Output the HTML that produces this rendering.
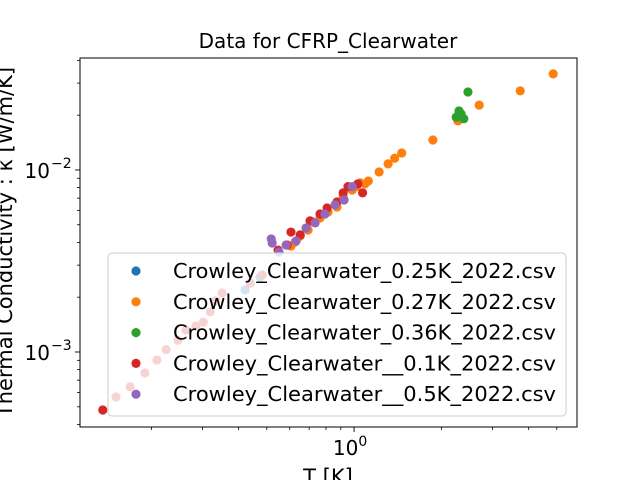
<!DOCTYPE html>
<html><head><meta charset="utf-8"><style>
body{margin:0;background:#fff;}
svg{display:block;font-family:"DejaVu Sans","Liberation Sans",sans-serif;}
</style></head><body>
<svg id="chart" width="640" height="480">
<rect width="640" height="480" fill="#fff"/>
<g id="marks"></g>
<g id="axes"></g>
<g id="legend"></g>
<text x="328" y="48" text-anchor="middle" font-size="20">Data for CFRP_Clearwater</text>
<text x="328" y="484" text-anchor="middle" font-size="21">T [K]</text>
<text transform="translate(12,242) rotate(-90)" text-anchor="middle" font-size="21">Thermal Conductivity : κ [W/m/K]</text>
</svg>
<script>
const seriesNames=["Crowley_Clearwater_0.25K_2022.csv","Crowley_Clearwater_0.27K_2022.csv","Crowley_Clearwater_0.36K_2022.csv","Crowley_Clearwater__0.1K_2022.csv","Crowley_Clearwater__0.5K_2022.csv"];
const seriesColors=["#1f77b4","#ff7f0e","#2ca02c","#d62728","#9467bd"];
const blueT=[0.474,0.421];
const blueK=[0.00258,0.00219];
const orangeT=[4.86,3.74,2.70,2.28,1.87,1.46,1.38,1.31,1.22,1.12,1.09,1.05,1.02,0.985,0.917,0.873,0.813,0.763,0.722,0.694,0.652,0.626,0.606];
const orangeK=[0.0337,0.0272,0.0227,0.0186,0.0146,0.0124,0.0116,0.0108,0.00975,0.0087,0.00838,0.0085,0.0081,0.00776,0.00711,0.00626,0.00588,0.00545,0.00518,0.00468,0.00434,0.00402,0.00382];
const greenT=[2.47,2.30,2.25,2.39,2.34];
const greenK=[0.0268,0.0211,0.0195,0.0191,0.0203];
const redT=[1.03,1.07,0.953,0.917,0.873,0.807,0.763,0.705,0.652,0.606,0.588,0.547,0.482,0.438,0.351,0.334,0.319,0.302,0.285,0.263,0.247,0.225,0.209,0.190,0.169,0.151,0.136];
const redK=[0.00838,0.00748,0.0081,0.00748,0.00667,0.00618,0.00573,0.00525,0.0044,0.00456,0.00387,0.00363,0.00265,0.00239,0.00211,0.00191,0.00166,0.00146,0.00139,0.00132,0.00116,0.00103,0.000904,0.000767,0.000643,0.000566,0.00048];
const purpleT=[0.985,0.924,0.860,0.794,0.734,0.683,0.631,0.583,0.551,0.518,0.522];
const purpleK=[0.0081,0.00684,0.00643,0.00573,0.00512,0.0048,0.00407,0.00387,0.00354,0.00418,0.00397];
const xTickVals=[1];
const xTickLabels=["0"];
const yTickVals=[0.001,0.01];
const yTickLabels=["−3","−2"];

const L=80,R=577,T=58,B=427;
const xMin=Math.log10(0.1135),xMax=Math.log10(5.87);
const yMin=-3.412,yMax=-1.385;
function xs(v){return L+(Math.log10(v)-xMin)/(xMax-xMin)*(R-L);}
function ys(v){return B-(Math.log10(v)-yMin)/(yMax-yMin)*(B-T);}
const NS="http://www.w3.org/2000/svg";
function mk(tag,attrs,parent){const e=document.createElementNS(NS,tag);for(const k in attrs)e.setAttribute(k,attrs[k]);parent.appendChild(e);return e;}
const marks=document.getElementById('marks');
const all=[[blueT,blueK],[orangeT,orangeK],[greenT,greenK],[redT,redK],[purpleT,purpleK]];
all.forEach((s,si)=>{
  const g=mk('g',{},marks);
  
  
  s[0].forEach((t,i)=>{
    const c=mk('circle',{cx:xs(t),cy:ys(s[1][i]),r:4.6,fill:seriesColors[si]},g);
    
    
  });
});
const ax=document.getElementById('axes');
for(let d=-1;d<=0;d++)for(let m=2;m<=9;m++){const v=m*Math.pow(10,d);const x=xs(v);if(x<L||x>R)continue;
  const t=mk('line',{x1:x,x2:x,y1:B,y2:B+3,stroke:'#000','stroke-width':0.8},ax);
  
  }
for(let d=-4;d<=-2;d++)for(let m=2;m<=9;m++){const v=m*Math.pow(10,d);const y=ys(v);if(y<T||y>B)continue;
  const t=mk('line',{x1:L-3,x2:L,y1:y,y2:y,stroke:'#000','stroke-width':0.8},ax);
  
  }
xTickVals.forEach((v,i)=>{const x=xs(v);
  const t=mk('line',{x1:x,x2:x,y1:B,y2:B+5,stroke:'#000','stroke-width':0.9},ax);
  
  
  const tx=mk('text',{x:x-4,y:B+28,'text-anchor':'middle','font-size':20},ax);
  
  
  tx.innerHTML='10<tspan font-size="14" dy="-9">'+xTickLabels[i]+'</tspan>';});
yTickVals.forEach((v,i)=>{const y=ys(v);
  const t=mk('line',{x1:L-5,x2:L,y1:y,y2:y,stroke:'#000','stroke-width':0.9},ax);
  
  
  const tx=mk('text',{x:L-30,y:y+8,'text-anchor':'end','font-size':20},ax);
  
  
  tx.textContent='10';
  const sp=mk('text',{x:L-29,y:y-2,'text-anchor':'start','font-size':14},ax);
  
  
  sp.textContent=yTickLabels[i];});
const fr=mk('rect',{x:L,y:T,width:R-L,height:B-T,fill:'none',stroke:'#000','stroke-width':1},ax);


const lg=document.getElementById('legend');
const lb=mk('rect',{x:108,y:253,width:458,height:163,rx:4,fill:'#fff','fill-opacity':0.8,stroke:'#ccc','stroke-width':1},lg);


seriesNames.forEach((n,i)=>{const y=271+i*30.8;
  const g=mk('g',{},lg);
  
  
  mk('circle',{cx:136,cy:y,r:4.6,fill:seriesColors[i]},g);
  const t=mk('text',{x:173,y:y+7,'font-size':20,textLength:383,lengthAdjust:'spacingAndGlyphs'},g);
  t.textContent=n;});
</script>
</body></html>
